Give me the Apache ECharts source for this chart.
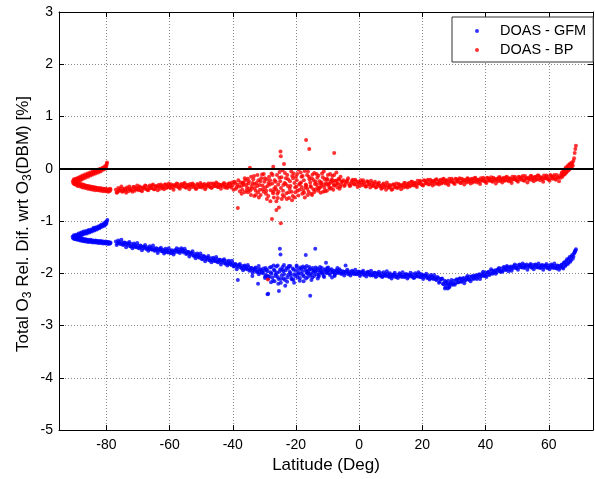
<!DOCTYPE html>
<html>
<head>
<meta charset="utf-8">
<script src="https://cdn.jsdelivr.net/npm/echarts@6/dist/echarts.min.js"></script>
<style>html,body{margin:0;padding:0;background:#fff;}#c{width:595px;height:479px;}</style>
</head>
<body>
<div id="c"></div>
<script>
// ---- data ----
const seriesNames = ['DOAS - GFM', 'DOAS - BP'];
const xAxisName = 'Latitude (Deg)';
const yTicks = [-5, -4, -3, -2, -1, 0, 1, 2, 3];
const xTicks = [-80, -60, -40, -20, 0, 20, 40, 60];

const bpSouthUpper = [[-90.6,-0.24],[-90.3,-0.20],[-90.0,-0.27],[-89.7,-0.19],[-89.4,-0.23],[-89.0,-0.17],[-88.7,-0.21],[-88.3,-0.15],[-88.0,-0.19],[-87.6,-0.13],[-87.2,-0.17],[-86.8,-0.11],[-86.4,-0.14],[-86.0,-0.09],[-85.6,-0.12],[-85.2,-0.07],[-84.8,-0.10],[-84.4,-0.05],[-84.0,-0.08],[-83.6,-0.04],[-83.2,-0.06],[-82.8,-0.02],[-82.4,-0.04],[-82.0,0.00],[-81.6,-0.02],[-81.2,0.02],[-80.8,0.01],[-80.5,0.05],[-80.2,0.03],[-79.9,0.09],[-79.8,0.12]];
const bpSouthUpper2 = [[-90.5,-0.27],[-90.1,-0.23],[-89.8,-0.21],[-89.5,-0.26],[-89.2,-0.20],[-88.9,-0.23],[-88.5,-0.18],[-88.1,-0.22],[-87.8,-0.16],[-87.4,-0.19],[-87.0,-0.14],[-86.6,-0.17],[-86.2,-0.12],[-85.8,-0.15],[-85.4,-0.10],[-85.0,-0.13],[-84.6,-0.08],[-84.2,-0.11],[-83.8,-0.06],[-83.4,-0.09],[-83.0,-0.04],[-82.6,-0.07],[-82.2,-0.02],[-81.8,-0.05],[-81.4,0.00],[-81.0,-0.02],[-80.6,0.02],[-80.3,0.00],[-80.0,0.06]];
const bpSouthLower = [[-90.2,-0.29],[-89.8,-0.25],[-89.4,-0.31],[-89.0,-0.27],[-88.6,-0.32],[-88.2,-0.29],[-87.8,-0.34],[-87.4,-0.30],[-87.0,-0.35],[-86.6,-0.32],[-86.2,-0.36],[-85.8,-0.33],[-85.4,-0.37],[-85.0,-0.34],[-84.6,-0.38],[-84.2,-0.35],[-83.8,-0.38],[-83.4,-0.36],[-83.0,-0.39],[-82.6,-0.37],[-82.2,-0.40],[-81.8,-0.37],[-81.4,-0.40],[-81.0,-0.38],[-80.6,-0.41],[-80.2,-0.38],[-79.8,-0.42],[-79.4,-0.39],[-79.0,-0.43],[-78.7,-0.40]];
const bpSouthLower2 = [[-89.9,-0.30],[-89.5,-0.27],[-89.1,-0.33],[-88.7,-0.28],[-88.3,-0.34],[-87.9,-0.30],[-87.5,-0.36],[-87.1,-0.31],[-86.7,-0.37],[-86.3,-0.33],[-85.9,-0.38],[-85.5,-0.34],[-85.1,-0.39],[-84.7,-0.35],[-84.3,-0.40],[-83.9,-0.36],[-83.5,-0.41],[-83.1,-0.37],[-82.7,-0.41],[-82.3,-0.38],[-81.9,-0.42],[-81.5,-0.39],[-81.1,-0.43],[-80.7,-0.39],[-80.3,-0.43],[-79.9,-0.40],[-79.5,-0.44],[-79.1,-0.41],[-78.8,-0.38]];
const bpMain = [[-77.0,-0.40],[-76.5,-0.45],[-76.0,-0.41],[-75.5,-0.38],[-75.0,-0.44],[-74.5,-0.39],[-74.0,-0.42],[-73.5,-0.36],[-73.0,-0.43],[-72.5,-0.38],[-72.0,-0.40],[-71.5,-0.35],[-71.0,-0.42],[-70.5,-0.37],[-70.0,-0.39],[-69.5,-0.34],[-69.0,-0.41],[-68.5,-0.36],[-68.0,-0.38],[-67.5,-0.33],[-67.0,-0.40],[-66.5,-0.35],[-66.0,-0.37],[-65.5,-0.32],[-65.0,-0.39],[-64.5,-0.34],[-64.0,-0.36],[-63.5,-0.31],[-63.0,-0.38],[-62.5,-0.33],[-62.0,-0.35],[-61.5,-0.30],[-61.0,-0.37],[-60.5,-0.32],[-60.0,-0.35],[-59.5,-0.30],[-59.0,-0.36],[-58.5,-0.31],[-58.0,-0.34],[-57.5,-0.29],[-57.0,-0.36],[-56.5,-0.31],[-56.0,-0.33],[-55.5,-0.29],[-55.0,-0.36],[-54.5,-0.31],[-54.0,-0.34],[-53.5,-0.29],[-53.0,-0.35],[-52.5,-0.30],[-52.0,-0.33],[-51.5,-0.38],[-51.0,-0.31],[-50.5,-0.35],[-50.0,-0.30],[-49.5,-0.34],[-49.0,-0.29],[-48.5,-0.36],[-48.0,-0.31],[-47.5,-0.33],[-47.0,-0.28],[-46.5,-0.35],[-46.0,-0.30],[-45.5,-0.33],[-45.0,-0.28],[-44.5,-0.35],[-44.0,-0.31],[-43.5,-0.33],[-43.0,-0.29],[-42.5,-0.36],[-42.0,-0.30],[-41.5,-0.34],[-41.0,-0.28],[-40.5,-0.36],[-40.0,-0.31],[-39.5,-0.25],[-39.0,-0.38],[-38.5,-0.30],[-38.0,-0.34],[-37.5,-0.26],[-37.0,-0.40],[-36.5,-0.31],[-36.0,-0.22],[-35.5,-0.36],[-35.0,-0.28],[-34.5,-0.42],[-34.0,-0.33],[-33.5,-0.20],[-33.0,-0.37],[-32.5,-0.27],[-32.0,-0.45],[-31.5,-0.31],[-31.0,-0.18],[-30.5,-0.39],[-30.0,-0.25],[-29.5,-0.48],[-29.0,-0.33],[-28.5,-0.15],[-28.0,-0.41],[-27.5,-0.28],[-27.0,-0.55],[-26.5,-0.35],[-26.0,-0.12],[-25.5,-0.44],[-25.0,-0.24],[-24.5,-0.58],[-24.0,-0.31],[-23.5,-0.08],[-23.0,-0.47],[-22.5,-0.20],[-22.0,-0.38],[-21.5,-0.05],[-21.0,-0.52],[-20.5,-0.27],[-20.0,-0.15],[-19.5,-0.42],[-19.0,-0.30],[-18.5,-0.07],[-18.0,-0.48],[-17.5,-0.22],[-17.0,-0.36],[-16.5,-0.12],[-16.0,-0.44],[-15.5,-0.26],[-15.0,-0.18],[-14.5,-0.39],[-14.0,-0.29],[-13.5,-0.10],[-13.0,-0.42],[-12.5,-0.24],[-12.0,-0.33],[-11.5,-0.16],[-11.0,-0.37],[-10.5,-0.27],[-10.0,-0.21],[-9.5,-0.35],[-9.0,-0.25],[-8.5,-0.14],[-8.0,-0.32],[-7.5,-0.23],[-7.0,-0.29],[-6.5,-0.19],[-6.0,-0.34],[-5.5,-0.25],[-5.0,-0.22],[-4.5,-0.31],[-4.0,-0.24],[-3.5,-0.18],[-3.0,-0.33],[-2.5,-0.26],[-2.0,-0.21],[-1.5,-0.30],[-1.0,-0.24],[-0.5,-0.35],[0.0,-0.27],[0.5,-0.22],[1.0,-0.31],[1.5,-0.26],[2.0,-0.34],[2.5,-0.24],[3.0,-0.29],[3.5,-0.36],[4.0,-0.27],[4.5,-0.32],[5.0,-0.25],[5.5,-0.35],[6.0,-0.29],[6.5,-0.33],[7.0,-0.38],[7.5,-0.30],[8.0,-0.35],[8.5,-0.40],[9.0,-0.31],[9.5,-0.36],[10.0,-0.33],[10.5,-0.39],[11.0,-0.30],[11.5,-0.35],[12.0,-0.37],[12.5,-0.29],[13.0,-0.34],[13.5,-0.31],[14.0,-0.36],[14.5,-0.27],[15.0,-0.32],[15.5,-0.29],[16.0,-0.34],[16.5,-0.25],[17.0,-0.30],[17.5,-0.27],[18.0,-0.32],[18.5,-0.23],[19.0,-0.28],[19.5,-0.25],[20.0,-0.31],[20.5,-0.22],[21.0,-0.27],[21.5,-0.24],[22.0,-0.30],[22.5,-0.21],[23.0,-0.27],[23.5,-0.23],[24.0,-0.29],[24.5,-0.20],[25.0,-0.26],[25.5,-0.23],[26.0,-0.28],[26.5,-0.20],[27.0,-0.25],[27.5,-0.22],[28.0,-0.28],[28.5,-0.19],[29.0,-0.25],[29.5,-0.22],[30.0,-0.27],[30.5,-0.19],[31.0,-0.24],[31.5,-0.21],[32.0,-0.27],[32.5,-0.19],[33.0,-0.24],[33.5,-0.21],[34.0,-0.26],[34.5,-0.19],[35.0,-0.23],[35.5,-0.20],[36.0,-0.26],[36.5,-0.18],[37.0,-0.23],[37.5,-0.21],[38.0,-0.25],[38.5,-0.18],[39.0,-0.23],[39.5,-0.20],[40.0,-0.25],[40.5,-0.17],[41.0,-0.22],[41.5,-0.20],[42.0,-0.24],[42.5,-0.17],[43.0,-0.22],[43.5,-0.19],[44.0,-0.24],[44.5,-0.16],[45.0,-0.21],[45.5,-0.19],[46.0,-0.23],[46.5,-0.16],[47.0,-0.21],[47.5,-0.18],[48.0,-0.23],[48.5,-0.15],[49.0,-0.20],[49.5,-0.18],[50.0,-0.22],[50.5,-0.15],[51.0,-0.19],[51.5,-0.17],[52.0,-0.22],[52.5,-0.14],[53.0,-0.19],[53.5,-0.17],[54.0,-0.21],[54.5,-0.14],[55.0,-0.18],[55.5,-0.16],[56.0,-0.21],[56.5,-0.13],[57.0,-0.18],[57.5,-0.16],[58.0,-0.20],[58.5,-0.13],[59.0,-0.18],[59.5,-0.15],[60.0,-0.20],[60.5,-0.12],[61.0,-0.17],[61.5,-0.15],[62.0,-0.19],[62.5,-0.12],[63.0,-0.17],[63.5,-0.14],[64.0,-0.10],[64.3,-0.15],[64.6,-0.05],[65.0,-0.11],[65.3,0.00],[65.6,-0.07],[66.0,0.04],[66.3,-0.03],[66.6,0.08],[67.0,0.01],[67.3,0.12],[67.6,0.06],[68.0,0.20],[68.2,0.30],[68.4,0.38],[68.6,0.44]];
const bpMain2 = [[-76.75,-0.46],[-76.25,-0.37],[-75.75,-0.42],[-75.25,-0.34],[-74.75,-0.43],[-74.25,-0.38],[-73.75,-0.46],[-73.25,-0.39],[-72.75,-0.34],[-72.25,-0.41],[-71.75,-0.44],[-71.25,-0.35],[-70.75,-0.39],[-70.25,-0.32],[-69.75,-0.41],[-69.25,-0.36],[-68.75,-0.43],[-68.25,-0.36],[-67.75,-0.32],[-67.25,-0.39],[-66.75,-0.41],[-66.25,-0.32],[-65.75,-0.37],[-65.25,-0.30],[-64.75,-0.39],[-64.25,-0.33],[-63.75,-0.41],[-63.25,-0.34],[-62.75,-0.30],[-62.25,-0.37],[-61.75,-0.39],[-61.25,-0.30],[-60.75,-0.35],[-60.25,-0.28],[-59.75,-0.37],[-59.25,-0.32],[-58.75,-0.40],[-58.25,-0.32],[-57.75,-0.28],[-57.25,-0.35],[-56.75,-0.38],[-56.25,-0.29],[-55.75,-0.34],[-55.25,-0.27],[-54.75,-0.36],[-54.25,-0.31],[-53.75,-0.39],[-53.25,-0.32],[-52.75,-0.28],[-52.25,-0.35],[-51.75,-0.38],[-51.25,-0.29],[-50.75,-0.34],[-50.25,-0.27],[-49.75,-0.36],[-49.25,-0.31],[-48.75,-0.39],[-48.25,-0.32],[-47.75,-0.28],[-47.25,-0.35],[-46.75,-0.37],[-46.25,-0.28],[-45.75,-0.33],[-45.25,-0.26],[-44.75,-0.35],[-44.25,-0.30],[-43.75,-0.38],[-43.25,-0.31],[-42.75,-0.27],[-42.25,-0.34],[-41.75,-0.37],[-41.25,-0.28],[-40.75,-0.33],[-40.25,-0.26],[-39.75,-0.40],[-39.25,-0.27],[-38.75,-0.35],[-38.25,-0.22],[-37.75,-0.43],[-37.25,-0.33],[-36.75,-0.26],[-36.25,-0.45],[-35.75,-0.30],[-35.25,-0.19],[-34.75,-0.38],[-34.25,-0.50],[-33.75,-0.27],[-33.25,-0.14],[-32.75,-0.42],[-32.25,-0.33],[-31.75,-0.55],[-31.25,-0.24],[-30.75,-0.11],[-30.25,-0.44],[-29.75,-0.36],[-29.25,-0.20],[-28.75,-0.52],[-28.25,-0.30],[-27.75,-0.09],[-27.25,-0.47],[-26.75,-0.22],[-26.25,-0.40],[-25.75,-0.56],[-25.25,-0.17],[-24.75,-0.37],[-24.25,-0.03],[-23.75,-0.53],[-23.25,-0.29],[-22.75,-0.12],[-22.25,-0.45],[-21.75,-0.33],[-21.25,-0.60],[-20.75,-0.09],[-20.25,-0.36],[-19.75,-0.22],[-19.25,-0.51],[-18.75,-0.28],[-18.25,-0.15],[-17.75,-0.41],[-17.25,-0.04],[-16.75,-0.32],[-16.25,-0.50],[-15.75,-0.20],[-15.25,-0.35],[-14.75,-0.11],[-14.25,-0.45],[-13.75,-0.25],[-13.25,-0.17],[-12.75,-0.38],[-12.25,-0.28],[-11.75,-0.09],[-11.25,-0.31],[-10.75,-0.43],[-10.25,-0.19],[-9.75,-0.30],[-9.25,-0.38],[-8.75,-0.21],[-8.25,-0.27],[-7.75,-0.32],[-7.25,-0.23],[-6.75,-0.28],[-6.25,-0.21],[-5.75,-0.30],[-5.25,-0.25],[-4.75,-0.33],[-4.25,-0.26],[-3.75,-0.22],[-3.25,-0.29],[-2.75,-0.32],[-2.25,-0.23],[-1.75,-0.28],[-1.25,-0.21],[-0.75,-0.30],[-0.25,-0.25],[0.25,-0.33],[0.75,-0.26],[1.25,-0.22],[1.75,-0.30],[2.25,-0.34],[2.75,-0.25],[3.25,-0.30],[3.75,-0.23],[4.25,-0.33],[4.75,-0.28],[5.25,-0.36],[5.75,-0.29],[6.25,-0.26],[6.75,-0.33],[7.25,-0.37],[7.75,-0.28],[8.25,-0.33],[8.75,-0.26],[9.25,-0.36],[9.75,-0.31],[10.25,-0.40],[10.75,-0.30],[11.25,-0.35],[11.75,-0.28],[12.25,-0.36],[12.75,-0.31],[13.25,-0.39],[13.75,-0.32],[14.25,-0.27],[14.75,-0.34],[15.25,-0.36],[15.75,-0.27],[16.25,-0.32],[16.75,-0.25],[17.25,-0.32],[17.75,-0.27],[18.25,-0.35],[18.75,-0.28],[19.25,-0.23],[19.75,-0.30],[20.25,-0.32],[20.75,-0.23],[21.25,-0.28],[21.75,-0.21],[22.25,-0.29],[22.75,-0.24],[23.25,-0.32],[23.75,-0.25],[24.25,-0.21],[24.75,-0.28],[25.25,-0.30],[25.75,-0.21],[26.25,-0.26],[26.75,-0.19],[27.25,-0.28],[27.75,-0.23],[28.25,-0.31],[28.75,-0.24],[29.25,-0.19],[29.75,-0.26],[30.25,-0.29],[30.75,-0.20],[31.25,-0.25],[31.75,-0.18],[32.25,-0.27],[32.75,-0.22],[33.25,-0.30],[33.75,-0.23],[34.25,-0.18],[34.75,-0.25],[35.25,-0.28],[35.75,-0.19],[36.25,-0.24],[36.75,-0.17],[37.25,-0.26],[37.75,-0.21],[38.25,-0.29],[38.75,-0.22],[39.25,-0.17],[39.75,-0.24],[40.25,-0.27],[40.75,-0.18],[41.25,-0.23],[41.75,-0.16],[42.25,-0.25],[42.75,-0.20],[43.25,-0.28],[43.75,-0.21],[44.25,-0.16],[44.75,-0.23],[45.25,-0.26],[45.75,-0.17],[46.25,-0.22],[46.75,-0.15],[47.25,-0.24],[47.75,-0.19],[48.25,-0.27],[48.75,-0.20],[49.25,-0.15],[49.75,-0.22],[50.25,-0.25],[50.75,-0.16],[51.25,-0.21],[51.75,-0.14],[52.25,-0.23],[52.75,-0.18],[53.25,-0.26],[53.75,-0.19],[54.25,-0.14],[54.75,-0.21],[55.25,-0.24],[55.75,-0.15],[56.25,-0.20],[56.75,-0.13],[57.25,-0.22],[57.75,-0.17],[58.25,-0.25],[58.75,-0.18],[59.25,-0.13],[59.75,-0.20],[60.25,-0.23],[60.75,-0.14],[61.25,-0.19],[61.75,-0.12],[62.25,-0.21],[62.75,-0.16],[63.25,-0.24],[63.75,-0.17],[64.15,-0.07],[64.45,-0.12],[64.8,-0.02],[65.15,-0.09],[65.45,0.03],[65.8,-0.04],[66.15,0.07],[66.45,-0.01],[66.8,0.10],[67.15,0.03],[67.45,0.09],[67.8,0.15]];
const bpScatter = [[-37.2,-0.48],[-36.2,-0.18],[-35.2,-0.45],[-34.2,-0.15],[-33.2,-0.52],[-32.2,-0.12],[-31.2,-0.50],[-30.2,-0.10],[-29.2,-0.58],[-28.2,-0.22],[-27.2,-0.44],[-26.2,-0.62],[-25.2,-0.06],[-24.2,-0.50],[-23.2,-0.18],[-22.2,-0.56],[-21.2,-0.14],[-20.2,-0.45],[-19.2,-0.02],[-18.2,-0.35],[-17.2,-0.55],[-16.2,-0.05],[-15.2,-0.48],[-14.2,-0.08],[-13.2,-0.36],[-12.2,-0.46],[-11.2,-0.05],[-10.2,-0.42],[-9.2,-0.10],[-8.2,-0.40],[-7.2,-0.07],[-6.2,-0.38],[-38.4,-0.75],[-27.6,-0.96],[-24.8,-1.04],[-26.2,-0.79],[-25.4,-0.74],[-34.6,0.02],[-27.2,0.04],[-23.8,0.09],[-24.9,0.33],[-24.8,0.24],[-16.8,0.55],[-15.8,0.38],[-7.9,0.30],[-28.9,-2.12]];
const bpScatter2 = [[-36.9,-0.27],[-35.6,-0.41],[-34.9,-0.24],[-33.9,-0.38],[-33.1,-0.29],[-32.7,-0.50],[-31.9,-0.22],[-31.4,-0.40],[-30.6,-0.32],[-29.9,-0.18],[-29.4,-0.42],[-28.7,-0.27],[-28.1,-0.62],[-27.4,-0.12],[-26.9,-0.38],[-26.4,-0.25],[-25.9,-0.48],[-25.6,-0.30],[-24.6,-0.16],[-24.1,-0.42],[-23.6,-0.27],[-22.9,-0.58],[-22.6,-0.33],[-21.9,-0.24],[-21.4,-0.44],[-20.9,-0.18],[-20.4,-0.55],[-19.9,-0.34],[-19.6,-0.10],[-18.9,-0.40],[-18.4,-0.26],[-17.9,-0.14],[-17.4,-0.46],[-16.9,-0.30],[-16.4,-0.38],[-15.9,-0.15],[-15.4,-0.33],[-14.9,-0.50],[-14.4,-0.22],[-13.9,-0.40],[-13.4,-0.30],[-12.9,-0.13],[-12.4,-0.36],[-11.9,-0.26],[-11.4,-0.44],[-10.9,-0.20],[-10.4,-0.30],[-9.9,-0.12],[-9.4,-0.28],[-8.9,-0.37],[-8.4,-0.22],[-7.9,-0.12],[-6.9,-0.36],[-5.9,-0.15]];

const gfmSouthUpper = [[-90.7,-1.30],[-90.3,-1.27],[-90.0,-1.32],[-89.6,-1.26],[-89.2,-1.29],[-88.8,-1.24],[-88.4,-1.27],[-88.0,-1.22],[-87.6,-1.25],[-87.2,-1.20],[-86.8,-1.23],[-86.4,-1.19],[-86.0,-1.22],[-85.6,-1.17],[-85.2,-1.20],[-84.8,-1.16],[-84.4,-1.18],[-84.0,-1.13],[-83.6,-1.16],[-83.2,-1.12],[-82.8,-1.14],[-82.4,-1.10],[-82.0,-1.12],[-81.6,-1.07],[-81.2,-1.09],[-80.8,-1.04],[-80.5,-1.07],[-80.2,-1.02],[-79.9,-1.01],[-79.7,-0.98]];
const gfmSouthUpper2 = [[-90.5,-1.33],[-90.1,-1.29],[-89.8,-1.28],[-89.4,-1.31],[-89.0,-1.26],[-88.6,-1.29],[-88.2,-1.24],[-87.8,-1.27],[-87.4,-1.22],[-87.0,-1.25],[-86.6,-1.21],[-86.2,-1.24],[-85.8,-1.19],[-85.4,-1.22],[-85.0,-1.18],[-84.6,-1.20],[-84.2,-1.15],[-83.8,-1.18],[-83.4,-1.14],[-83.0,-1.16],[-82.6,-1.12],[-82.2,-1.14],[-81.8,-1.09],[-81.4,-1.11],[-81.0,-1.07],[-80.6,-1.09],[-80.3,-1.04],[-80.0,-1.05]];
const gfmSouthLower = [[-90.2,-1.34],[-89.8,-1.30],[-89.4,-1.35],[-89.0,-1.32],[-88.6,-1.36],[-88.2,-1.33],[-87.8,-1.37],[-87.4,-1.34],[-87.0,-1.38],[-86.6,-1.35],[-86.2,-1.38],[-85.8,-1.36],[-85.4,-1.39],[-85.0,-1.36],[-84.6,-1.39],[-84.2,-1.37],[-83.8,-1.40],[-83.4,-1.37],[-83.0,-1.40],[-82.6,-1.38],[-82.2,-1.41],[-81.8,-1.38],[-81.4,-1.41],[-81.0,-1.39],[-80.6,-1.42],[-80.2,-1.39],[-79.8,-1.42],[-79.4,-1.40],[-79.0,-1.43],[-78.7,-1.41]];
const gfmSouthLower2 = [[-89.9,-1.35],[-89.5,-1.32],[-89.1,-1.36],[-88.7,-1.33],[-88.3,-1.37],[-87.9,-1.34],[-87.5,-1.38],[-87.1,-1.35],[-86.7,-1.39],[-86.3,-1.36],[-85.9,-1.40],[-85.5,-1.37],[-85.1,-1.40],[-84.7,-1.37],[-84.3,-1.41],[-83.9,-1.38],[-83.5,-1.41],[-83.1,-1.38],[-82.7,-1.42],[-82.3,-1.39],[-81.9,-1.42],[-81.5,-1.39],[-81.1,-1.43],[-80.7,-1.40],[-80.3,-1.43],[-79.9,-1.40],[-79.5,-1.44],[-79.1,-1.41],[-78.8,-1.43]];
const gfmMain = [[-77.0,-1.39],[-76.5,-1.43],[-76.0,-1.40],[-75.5,-1.44],[-75.0,-1.41],[-74.5,-1.45],[-74.0,-1.42],[-73.5,-1.46],[-73.0,-1.43],[-72.5,-1.48],[-72.0,-1.44],[-71.5,-1.49],[-71.0,-1.46],[-70.5,-1.50],[-70.0,-1.47],[-69.5,-1.51],[-69.0,-1.48],[-68.5,-1.52],[-68.0,-1.49],[-67.5,-1.53],[-67.0,-1.50],[-66.5,-1.54],[-66.0,-1.51],[-65.5,-1.55],[-65.0,-1.52],[-64.5,-1.56],[-64.0,-1.53],[-63.5,-1.57],[-63.0,-1.54],[-62.5,-1.58],[-62.0,-1.55],[-61.5,-1.59],[-61.0,-1.56],[-60.5,-1.60],[-60.0,-1.57],[-59.5,-1.61],[-59.0,-1.58],[-58.5,-1.60],[-58.0,-1.56],[-57.5,-1.59],[-57.0,-1.54],[-56.5,-1.58],[-56.0,-1.55],[-55.5,-1.60],[-55.0,-1.57],[-54.5,-1.62],[-54.0,-1.59],[-53.5,-1.64],[-53.0,-1.61],[-52.5,-1.66],[-52.0,-1.63],[-51.5,-1.68],[-51.0,-1.65],[-50.5,-1.70],[-50.0,-1.67],[-49.5,-1.72],[-49.0,-1.68],[-48.5,-1.73],[-48.0,-1.70],[-47.5,-1.75],[-47.0,-1.71],[-46.5,-1.76],[-46.0,-1.72],[-45.5,-1.77],[-45.0,-1.73],[-44.5,-1.78],[-44.0,-1.74],[-43.5,-1.79],[-43.0,-1.75],[-42.5,-1.81],[-42.0,-1.77],[-41.5,-1.82],[-41.0,-1.79],[-40.5,-1.84],[-40.0,-1.81],[-39.5,-1.86],[-39.0,-1.83],[-38.5,-1.88],[-38.0,-1.84],[-37.5,-1.89],[-37.0,-1.86],[-36.5,-1.91],[-36.0,-1.87],[-35.5,-1.92],[-35.0,-1.88],[-34.5,-1.93],[-34.0,-1.90],[-33.5,-1.95],[-33.0,-1.91],[-32.5,-1.97],[-32.0,-1.92],[-31.5,-1.98],[-31.0,-1.94],[-30.5,-2.00],[-30.0,-1.95],[-29.5,-2.03],[-29.0,-1.96],[-28.5,-2.06],[-28.0,-1.98],[-27.5,-2.08],[-27.0,-1.93],[-26.5,-2.05],[-26.0,-1.99],[-25.5,-2.11],[-25.0,-1.92],[-24.5,-2.04],[-24.0,-1.96],[-23.5,-2.13],[-23.0,-1.90],[-22.5,-2.03],[-22.0,-1.97],[-21.5,-2.10],[-21.0,-1.91],[-20.5,-2.02],[-20.0,-1.95],[-19.5,-2.08],[-19.0,-1.92],[-18.5,-2.01],[-18.0,-1.96],[-17.5,-2.06],[-17.0,-1.93],[-16.5,-2.00],[-16.0,-1.95],[-15.5,-2.04],[-15.0,-1.93],[-14.5,-1.99],[-14.0,-1.95],[-13.5,-2.02],[-13.0,-1.94],[-12.5,-1.99],[-12.0,-1.96],[-11.5,-2.01],[-11.0,-1.94],[-10.5,-1.98],[-10.0,-1.95],[-9.5,-2.00],[-9.0,-1.94],[-8.5,-1.98],[-8.0,-1.95],[-7.5,-2.00],[-7.0,-1.96],[-6.5,-1.99],[-6.0,-1.95],[-5.5,-2.01],[-5.0,-1.97],[-4.5,-2.00],[-4.0,-1.96],[-3.5,-2.02],[-3.0,-1.97],[-2.5,-2.01],[-2.0,-1.97],[-1.5,-2.02],[-1.0,-1.98],[-0.5,-2.01],[0.0,-1.97],[0.5,-2.02],[1.0,-1.98],[1.5,-2.03],[2.0,-1.99],[2.5,-2.02],[3.0,-1.98],[3.5,-2.04],[4.0,-2.00],[4.5,-2.03],[5.0,-1.99],[5.5,-2.05],[6.0,-2.01],[6.5,-2.04],[7.0,-2.00],[7.5,-2.06],[8.0,-2.02],[8.5,-2.05],[9.0,-2.01],[9.5,-2.07],[10.0,-2.03],[10.5,-2.06],[11.0,-2.02],[11.5,-2.07],[12.0,-2.03],[12.5,-2.06],[13.0,-2.02],[13.5,-2.07],[14.0,-2.03],[14.5,-2.06],[15.0,-2.02],[15.5,-2.07],[16.0,-2.03],[16.5,-2.06],[17.0,-2.02],[17.5,-2.08],[18.0,-2.03],[18.5,-2.06],[19.0,-2.01],[19.5,-2.07],[20.0,-2.03],[20.5,-2.07],[21.0,-2.04],[21.5,-2.09],[22.0,-2.05],[22.5,-2.10],[23.0,-2.06],[23.5,-2.11],[24.0,-2.08],[24.5,-2.13],[25.0,-2.09],[25.5,-2.16],[26.0,-2.11],[26.5,-2.20],[27.0,-2.14],[27.3,-2.26],[27.6,-2.18],[28.0,-2.29],[28.3,-2.21],[28.6,-2.25],[29.0,-2.17],[29.5,-2.22],[30.0,-2.14],[30.5,-2.19],[31.0,-2.12],[31.5,-2.17],[32.0,-2.10],[32.5,-2.15],[33.0,-2.09],[33.5,-2.14],[34.0,-2.08],[34.5,-2.12],[35.0,-2.06],[35.5,-2.11],[36.0,-2.05],[36.5,-2.09],[37.0,-2.04],[37.5,-2.08],[38.0,-2.02],[38.5,-2.06],[39.0,-2.00],[39.5,-2.05],[40.0,-1.99],[40.5,-2.03],[41.0,-1.97],[41.5,-2.01],[42.0,-1.95],[42.5,-1.99],[43.0,-1.94],[43.5,-1.98],[44.0,-1.92],[44.5,-1.96],[45.0,-1.91],[45.5,-1.95],[46.0,-1.89],[46.5,-1.93],[47.0,-1.88],[47.5,-1.92],[48.0,-1.87],[48.5,-1.91],[49.0,-1.86],[49.5,-1.90],[50.0,-1.85],[50.5,-1.89],[51.0,-1.84],[51.5,-1.89],[52.0,-1.84],[52.5,-1.88],[53.0,-1.83],[53.5,-1.88],[54.0,-1.84],[54.5,-1.89],[55.0,-1.84],[55.5,-1.88],[56.0,-1.84],[56.5,-1.89],[57.0,-1.85],[57.5,-1.89],[58.0,-1.84],[58.5,-1.89],[59.0,-1.85],[59.5,-1.90],[60.0,-1.85],[60.5,-1.89],[61.0,-1.85],[61.5,-1.90],[62.0,-1.86],[62.5,-1.91],[63.0,-1.86],[63.5,-1.90],[64.0,-1.84],[64.4,-1.89],[64.8,-1.80],[65.2,-1.86],[65.6,-1.76],[66.0,-1.82],[66.4,-1.72],[66.8,-1.78],[67.2,-1.68],[67.6,-1.72],[68.0,-1.62],[68.3,-1.58],[68.6,-1.54]];
const gfmMain2 = [[-76.75,-1.46],[-76.25,-1.37],[-75.75,-1.43],[-75.25,-1.36],[-74.75,-1.46],[-74.25,-1.41],[-73.75,-1.50],[-73.25,-1.43],[-72.75,-1.40],[-72.25,-1.48],[-71.75,-1.52],[-71.25,-1.43],[-70.75,-1.49],[-70.25,-1.42],[-69.75,-1.52],[-69.25,-1.47],[-68.75,-1.56],[-68.25,-1.49],[-67.75,-1.46],[-67.25,-1.53],[-66.75,-1.57],[-66.25,-1.48],[-65.75,-1.54],[-65.25,-1.47],[-64.75,-1.57],[-64.25,-1.52],[-63.75,-1.61],[-63.25,-1.54],[-62.75,-1.51],[-62.25,-1.58],[-61.75,-1.62],[-61.25,-1.53],[-60.75,-1.59],[-60.25,-1.52],[-59.75,-1.61],[-59.25,-1.56],[-58.75,-1.64],[-58.25,-1.56],[-57.75,-1.52],[-57.25,-1.58],[-56.75,-1.61],[-56.25,-1.52],[-55.75,-1.58],[-55.25,-1.53],[-54.75,-1.63],[-54.25,-1.59],[-53.75,-1.68],[-53.25,-1.61],[-52.75,-1.58],[-52.25,-1.67],[-51.75,-1.71],[-51.25,-1.62],[-50.75,-1.69],[-50.25,-1.62],[-49.75,-1.73],[-49.25,-1.67],[-48.75,-1.77],[-48.25,-1.70],[-47.75,-1.67],[-47.25,-1.75],[-46.75,-1.79],[-46.25,-1.70],[-45.75,-1.76],[-45.25,-1.69],[-44.75,-1.79],[-44.25,-1.74],[-43.75,-1.83],[-43.25,-1.76],[-42.75,-1.73],[-42.25,-1.81],[-41.75,-1.85],[-41.25,-1.76],[-40.75,-1.82],[-40.25,-1.76],[-39.75,-1.87],[-39.25,-1.82],[-38.75,-1.92],[-38.25,-1.85],[-37.75,-1.82],[-37.25,-1.90],[-36.75,-1.94],[-36.25,-1.85],[-35.75,-1.91],[-35.25,-1.84],[-34.75,-1.95],[-34.25,-1.90],[-33.75,-1.99],[-33.25,-1.92],[-32.75,-1.89],[-32.25,-1.97],[-31.75,-2.02],[-31.25,-1.92],[-30.75,-1.98],[-30.25,-1.91],[-29.75,-2.06],[-29.25,-1.93],[-28.75,-2.10],[-28.25,-1.89],[-27.75,-2.01],[-27.25,-2.14],[-26.75,-1.95],[-26.25,-1.87],[-25.75,-2.07],[-25.25,-1.97],[-24.75,-2.11],[-24.25,-1.88],[-23.75,-2.02],[-23.25,-1.94],[-22.75,-2.08],[-22.25,-1.86],[-21.75,-2.00],[-21.25,-2.12],[-20.75,-1.93],[-20.25,-2.05],[-19.75,-1.88],[-19.25,-1.99],[-18.75,-2.09],[-18.25,-1.91],[-17.75,-2.03],[-17.25,-1.89],[-16.75,-1.97],[-16.25,-2.07],[-15.75,-1.92],[-15.25,-2.01],[-14.75,-1.90],[-14.25,-2.05],[-13.75,-1.96],[-13.25,-1.91],[-12.75,-2.03],[-12.25,-1.93],[-11.75,-1.99],[-11.25,-2.05],[-10.75,-1.92],[-10.25,-2.00],[-9.75,-1.94],[-9.25,-2.03],[-8.75,-1.92],[-8.25,-1.98],[-7.75,-2.03],[-7.25,-1.94],[-6.75,-1.99],[-6.25,-1.92],[-5.75,-2.01],[-5.25,-1.96],[-4.75,-2.04],[-4.25,-1.97],[-3.75,-1.93],[-3.25,-2.00],[-2.75,-2.04],[-2.25,-1.95],[-1.75,-2.00],[-1.25,-1.93],[-0.75,-2.02],[-0.25,-1.97],[0.25,-2.05],[0.75,-1.98],[1.25,-1.95],[1.75,-2.02],[2.25,-2.06],[2.75,-1.97],[3.25,-2.02],[3.75,-1.95],[4.25,-2.04],[4.75,-1.99],[5.25,-2.07],[5.75,-2.00],[6.25,-1.97],[6.75,-2.04],[7.25,-2.07],[7.75,-1.98],[8.25,-2.03],[8.75,-1.96],[9.25,-2.05],[9.75,-2.00],[10.25,-2.10],[10.75,-2.03],[11.25,-1.99],[11.75,-2.06],[12.25,-2.09],[12.75,-2.00],[13.25,-2.05],[13.75,-1.98],[14.25,-2.07],[14.75,-2.02],[15.25,-2.10],[15.75,-2.03],[16.25,-1.99],[16.75,-2.06],[17.25,-2.09],[17.75,-2.00],[18.25,-2.05],[18.75,-1.98],[19.25,-2.07],[19.75,-2.02],[20.25,-2.11],[20.75,-2.04],[21.25,-2.01],[21.75,-2.08],[22.25,-2.12],[22.75,-2.03],[23.25,-2.09],[23.75,-2.03],[24.25,-2.12],[24.75,-2.07],[25.25,-2.18],[25.75,-2.11],[26.25,-2.10],[26.75,-2.21],[27.15,-2.29],[27.45,-2.16],[27.8,-2.22],[28.15,-2.14],[28.45,-2.27],[28.8,-2.20],[29.25,-2.13],[29.75,-2.20],[30.25,-2.22],[30.75,-2.12],[31.25,-2.17],[31.75,-2.10],[32.25,-2.16],[32.75,-2.11],[33.25,-2.19],[33.75,-2.12],[34.25,-2.05],[34.75,-2.12],[35.25,-2.15],[35.75,-2.06],[36.25,-2.11],[36.75,-2.04],[37.25,-2.11],[37.75,-2.03],[38.25,-2.11],[38.75,-2.04],[39.25,-1.97],[39.75,-2.04],[40.25,-2.07],[40.75,-1.98],[41.25,-2.03],[41.75,-1.92],[42.25,-2.01],[42.75,-1.96],[43.25,-2.01],[43.75,-1.93],[44.25,-1.90],[44.75,-1.97],[45.25,-1.97],[45.75,-1.88],[46.25,-1.93],[46.75,-1.86],[47.25,-1.96],[47.75,-1.89],[48.25,-1.95],[48.75,-1.88],[49.25,-1.83],[49.75,-1.90],[50.25,-1.93],[50.75,-1.83],[51.25,-1.88],[51.75,-1.81],[52.25,-1.90],[52.75,-1.85],[53.25,-1.93],[53.75,-1.86],[54.25,-1.82],[54.75,-1.89],[55.25,-1.92],[55.75,-1.83],[56.25,-1.88],[56.75,-1.81],[57.25,-1.90],[57.75,-1.85],[58.25,-1.93],[58.75,-1.86],[59.25,-1.82],[59.75,-1.89],[60.25,-1.92],[60.75,-1.83],[61.25,-1.88],[61.75,-1.81],[62.25,-1.90],[62.75,-1.85],[63.25,-1.93],[63.75,-1.86],[64.2,-1.83],[64.6,-1.91],[65.0,-1.79],[65.4,-1.84],[65.8,-1.73],[66.2,-1.80],[66.6,-1.69],[67.0,-1.75],[67.4,-1.65],[67.8,-1.68],[68.15,-1.60],[68.45,-1.57]];
const gfmScatter = [[-33.8,-2.05],[-31.8,-1.86],[-29.8,-2.09],[-27.8,-1.88],[-26.8,-2.15],[-25.8,-1.85],[-24.8,-2.18],[-23.8,-1.84],[-22.8,-2.16],[-21.8,-1.86],[-20.8,-2.12],[-19.8,-1.85],[-18.8,-2.14],[-17.8,-1.87],[-16.8,-2.10],[-15.8,-1.88],[-14.8,-2.08],[-13.8,-1.89],[-12.8,-2.06],[-11.8,-1.90],[-9.8,-1.89],[-7.8,-2.05],[-38.4,-2.13],[-32.0,-2.20],[-29.0,-2.40],[-28.8,-2.39],[-25.4,-2.34],[-25.1,-1.53],[-24.9,-1.64],[-16.9,-1.65],[-15.5,-2.43],[-13.9,-1.53],[-10.5,-1.80],[-4.3,-1.85]];
const gfmScatter2 = [[-29.6,-1.90],[-28.9,-2.05],[-27.9,-2.17],[-27.1,-1.85],[-26.4,-2.02],[-25.6,-2.20],[-24.4,-1.93],[-23.9,-2.10],[-23.4,-2.24],[-22.4,-1.90],[-21.6,-2.04],[-20.6,-2.18],[-19.4,-2.02],[-18.6,-1.89],[-17.6,-2.15],[-16.6,-1.86],[-16.1,-2.00],[-15.1,-2.13],[-14.4,-1.95],[-13.1,-2.10],[-12.4,-1.88],[-11.1,-2.07],[-10.1,-1.90],[-8.6,-2.08],[-6.9,-1.90]];

const gfmData = [].concat(gfmSouthUpper, gfmSouthUpper2, gfmSouthLower, gfmSouthLower2, gfmMain, gfmMain2, gfmScatter, gfmScatter2);
const bpData = [].concat(bpSouthUpper, bpSouthUpper2, bpSouthLower, bpSouthLower2, bpMain, bpMain2, bpScatter, bpScatter2);

const FONT = 'Liberation Sans';
const chart = echarts.init(document.getElementById('c'), null, {renderer: 'canvas'});

const baseX = {
  type: 'value', min: -95, max: 74, splitNumber: 8,
  axisLine: {show: true, onZero: false, lineStyle: {color: '#000', width: 1}},
  axisTick: {show: true, inside: true, length: 5, lineStyle: {color: '#000'}},
};
const baseY = {
  type: 'value', min: yTicks[0], max: yTicks[yTicks.length - 1], interval: 1,
  axisLine: {show: true, onZero: false, lineStyle: {color: '#000', width: 1}},
  axisTick: {show: true, inside: true, length: 5, lineStyle: {color: '#000'}},
};

chart.setOption({
  animation: false,
  backgroundColor: '#fff',
  grid: {left: 59, right: 2, top: 12, bottom: 43, containLabel: false},
  legend: {
    data: seriesNames,
    orient: 'vertical',
    left: 452, top: 17,
    padding: [6, 7, 4, 23],
    itemGap: 3,
    itemWidth: 4, itemHeight: 4,
    icon: 'circle',
    backgroundColor: '#fff',
    borderColor: '#333', borderWidth: 1, borderRadius: 0,
    textStyle: {fontFamily: FONT, fontSize: 14.5, color: '#000', lineHeight: 16, padding: [0, 0, 0, 16]}
  },
  xAxis: [
    Object.assign({}, baseX, {
      position: 'bottom',
      name: xAxisName, nameLocation: 'middle', nameGap: 21,
      nameTextStyle: {fontFamily: FONT, fontSize: 17, color: '#000'},
      axisLabel: {
        show: true, color: '#000', fontFamily: FONT, fontSize: 14, margin: 8,
        showMinLabel: false, showMaxLabel: false,
        formatter: v => (xTicks.indexOf(v) >= 0 ? String(v) : '')
      },
      splitLine: {show: true, lineStyle: {color: '#888', type: [1, 2], width: 1}}
    }),
    Object.assign({}, baseX, {
      position: 'top',
      axisLabel: {show: false},
      splitLine: {show: false}
    })
  ],
  yAxis: [
    Object.assign({}, baseY, {
      position: 'left',
      axisLabel: {show: true, color: '#000', fontFamily: FONT, fontSize: 14, margin: 6},
      splitLine: {show: true, lineStyle: {color: '#888', type: [1, 2], width: 1}}
    }),
    Object.assign({}, baseY, {
      position: 'right',
      axisLabel: {show: false},
      splitLine: {show: false}
    })
  ],
  graphic: [{
    type: 'text',
    x: 23, y: 224,
    rotation: Math.PI / 2,
    style: {
      text: 'Total O{sub|3} Rel. Dif. wrt O{sub|3}(DBM) [%]',
      rich: {sub: {fontSize: 12, fontFamily: FONT, fill: '#000', verticalAlign: 'bottom', lineHeight: 12}},
      fontFamily: FONT, fontSize: 17, fill: '#000',
      align: 'center', verticalAlign: 'middle', lineHeight: 22
    }
  }],
  series: [
    {
      name: seriesNames[0], type: 'scatter', data: gfmData,
      symbol: 'circle', symbolSize: 4,
      itemStyle: {color: '#0000ff'},
      xAxisIndex: 0, yAxisIndex: 0, silent: true
    },
    {
      name: seriesNames[1], type: 'scatter', data: bpData,
      symbol: 'circle', symbolSize: 4,
      itemStyle: {color: '#ff0000'},
      xAxisIndex: 0, yAxisIndex: 0, silent: true,
      markLine: {
        silent: true, symbol: ['none', 'none'], label: {show: false},
        lineStyle: {color: '#000', width: 2, type: 'solid'},
        data: [{yAxis: 0}]
      }
    }
  ]
});
</script>
</body>
</html>
